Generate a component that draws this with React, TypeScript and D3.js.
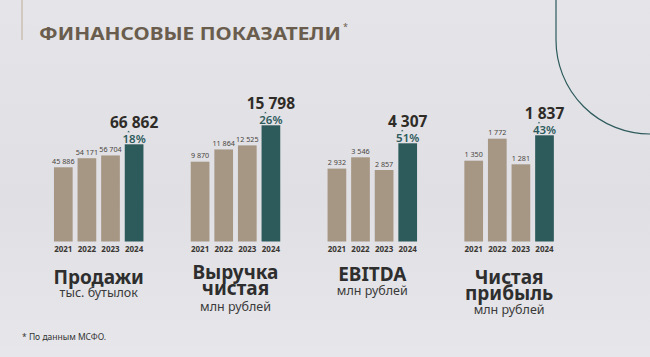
import React from 'react';
import * as d3 from 'd3';

const years = ['2021', '2022', '2023', '2024'];
const salesValues = [45886, 54171, 56704, 66862];
const revenueValues = [9870, 11864, 12525, 15798];
const ebitdaValues = [2932, 3546, 2857, 4307];
const profitValues = [1350, 1772, 1281, 1837];
const growthLabels = ['18%', '26%', '51%', '43%'];
const panelTitles = [['Продажи'], ['Выручка', 'чистая'], ['EBITDA'], ['Чистая', 'прибыль']];
const panelUnits = ['тыс. бутылок', 'млн рублей', 'млн рублей', 'млн рублей'];
const chartTitle = 'ФИНАНСОВЫЕ ПОКАЗАТЕЛИ';
const footnote = '* По данным МСФО.';

const W = 650;
const H = 357;
const BOTTOM = 241.5;
const TAN = '#a69785';
const TEAL = '#2d5a5b';
const FONT = "'Noto Sans', 'Open Sans', sans-serif";

// per-panel layout: pedestal height and top y for the max bar
const panelLayout = [
  { pedestal: 23.9, top: 144.3, titleY: 283.6, unitY: 297 },
  { pedestal: 19.2, top: 125.3, titleY: 279.3, unitY: 311.4 },
  { pedestal: 18.9, top: 143.3, titleY: 280.7, unitY: 295 },
  { pedestal: 10.4, top: 135.3, titleY: 283.6, unitY: 314 },
];

const seriesList = [salesValues, revenueValues, ebitdaValues, profitValues];

const ru = d3.formatLocale({ thousands: '\u00a0', grouping: [3], decimal: ',', currency: ['', ''] });
const fmt = ru.format(',d');

export default function App() {
  const panelX = d3.scalePoint<number>().domain([0, 1, 2, 3]).range([98.7, 509.1]);

  return (
    <svg width={W} height={H} style={{ position: 'absolute', left: 0, top: 0 }} fontFamily={FONT}>
      <defs>
        <linearGradient id="bg" x1="0" y1="0" x2="0" y2="1">
          <stop offset="0" stopColor="#e4e4e9" />
          <stop offset="0.55" stopColor="#dfdfe4" />
          <stop offset="1" stopColor="#e7e7eb" />
        </linearGradient>
      </defs>
      <rect x={0} y={0} width={W} height={H} fill="url(#bg)" />

      {/* decorative lines */}
      <line x1={22} y1={0} x2={22} y2={40} stroke="#bfae95" strokeWidth={1} />
      <path d="M556,0 L556,40 A94,94 0 0 0 650,134" fill="none" stroke={TEAL} strokeWidth={1.2} />

      {/* title */}
      <text x={39} y={40} fontSize={18.5} fontWeight={700} fill="#6a5d4d" textLength={302} lengthAdjust="spacingAndGlyphs">
        {chartTitle}
      </text>
      <text x={343} y={30} fontSize={9} fill="#6a5d4d">*</text>

      {seriesList.map((values, pi) => {
        const cx = panelX(pi) as number;
        const lay = panelLayout[pi];
        const max = d3.max(values) as number;
        const x = d3.scaleBand<string>().domain(years).range([cx - 44.75, cx + 44.75]).paddingInner(0.208).paddingOuter(0);
        const y = d3.scaleLinear().domain([0, max]).range([BOTTOM - lay.pedestal, lay.top]);
        const last = values.length - 1;
        return (
          <g key={pi}>
            {values.map((v, i) => {
              const bx = x(years[i]) as number;
              const bw = x.bandwidth();
              const top = y(v);
              const isLast = i === last;
              return (
                <g key={i}>
                  <rect x={bx} y={top} width={bw} height={BOTTOM - top} fill={isLast ? TEAL : TAN} />
                  {!isLast && (
                    <text x={bx + bw / 2} y={top - 3.3} fontSize={7.2} textAnchor="middle" fill="#4a4540">
                      {fmt(v)}
                    </text>
                  )}
                  {isLast && (
                    <g>
                      <text x={bx + bw / 2} y={top - 16.5} fontSize={15.5} fontWeight={700} textAnchor="middle" fill="#2f2c28">
                        {fmt(v)}
                      </text>
                      <text x={bx + bw / 2} y={top - 1.8} fontSize={11.5} fontWeight={600} textAnchor="middle" fill={TEAL}>
                        {growthLabels[pi]}
                      </text>
                      <path
                        d={`M${bx + bw / 2 - 6.8},${top - 12} l1.3,-1.6 l1.3,1.6 Z`}
                        fill={TEAL}
                      />
                    </g>
                  )}
                  <text x={bx + bw / 2} y={252} fontSize={8} fontWeight={700} textAnchor="middle" fill="#3b3733">
                    {years[i]}
                  </text>
                </g>
              );
            })}
            {panelTitles[pi].map((t, li) => (
              <text key={li} x={cx} y={lay.titleY + li * 16} fontSize={19} fontWeight={700} textAnchor="middle" fill="#2e2e2e">
                {t}
              </text>
            ))}
            <text x={cx} y={lay.unitY} fontSize={12.5} textAnchor="middle" fill="#3a3a3a">
              {panelUnits[pi]}
            </text>
          </g>
        );
      })}

      <text x={22} y={340} fontSize={8.5} fill="#333">{footnote}</text>
    </svg>
  );
}
